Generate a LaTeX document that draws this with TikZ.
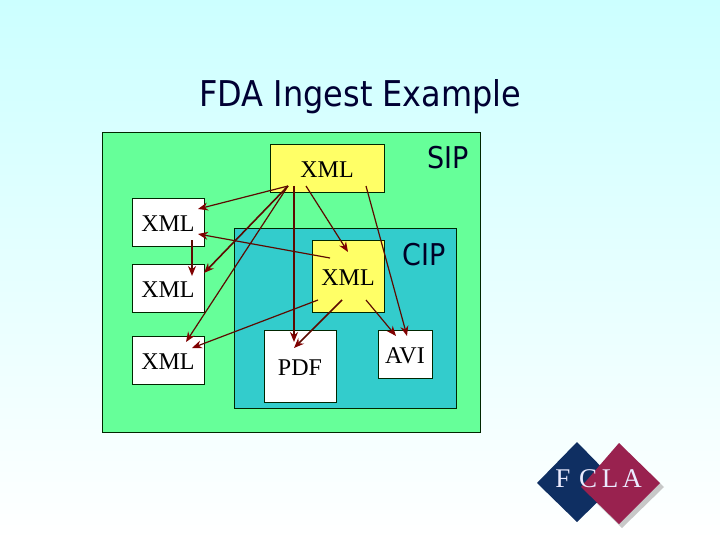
\documentclass[tikz,border=0pt]{standalone}
\usepackage{fontspec}
\usepackage{xcolor}
\usetikzlibrary{arrows.meta}
\setmainfont{Liberation Serif}
\newfontfamily\titlefont{DejaVu Sans Condensed}
\definecolor{skyColor}{HTML}{CCFFFF}
\definecolor{sipColor}{HTML}{66FF99}
\definecolor{cipColor}{HTML}{33CCCC}
\definecolor{xmlColor}{HTML}{FFFF66}
\definecolor{lineColor}{HTML}{5C0A00}
\definecolor{tipColor}{HTML}{800000}
\definecolor{navyColor}{HTML}{0F2F62}
\definecolor{wineColor}{HTML}{99224F}
\tikzset{
    filebox/.style={draw=black!85!green, line width=0.9pt, inner sep=0pt, text=black, text height=18pt, text depth=0pt, font=\fontsize{24}{24}\selectfont},
    link/.style={lineColor, line width=1.2pt, -{Stealth[length=10pt,width=8pt,color=tipColor]}},
    biglink/.style={link, line width=1.6pt},
    biglabel/.style={text=black!85!blue, font=\titlefont\fontsize{30}{30}\selectfont},
    logoletter/.style={text=white!92!blue, font=\fontsize{27}{27}\selectfont}
}

\begin{document}
\begin{tikzpicture}[x=1pt,y=-1pt]
    \useasboundingbox (0,0) rectangle (720,540);
    \shade[top color=skyColor, bottom color=white] (0,0) rectangle (720,540);
    \node[text=black!80!blue, font=\titlefont\fontsize{35.5}{35.5}\selectfont] (title) at (360.5,97) {FDA Ingest Example};
    % package boxes
    \node[filebox, fill=sipColor, minimum width=378pt, minimum height=300pt] (sip) at (291.5,282.5) {};
    \node[filebox, fill=cipColor, minimum width=222pt, minimum height=180pt] (cip) at (345,318) {};
    \node[biglabel] (siplabel) at (448,158) {SIP};
    \node[biglabel] (ciplabel) at (424,255) {CIP};
    % files
    \node[filebox, fill=xmlColor, minimum width=114pt, minimum height=48pt, text height=20pt] (sipxml) at (327,168) {XML};
    \node[filebox, fill=xmlColor, minimum width=72pt, minimum height=72pt] (cipxml) at (348,276) {XML};
    \foreach \name/\y in {xmlone/222, xmltwo/288, xmlthree/360}
        \node[filebox, fill=white, minimum width=72pt, minimum height=48pt] (\name) at (168,\y) {XML};
    \node[filebox, fill=white, minimum width=72pt, minimum height=72pt] (pdf) at (300,366) {PDF};
    \node[filebox, fill=white, minimum width=54pt, minimum height=48pt] (avi) at (405,354) {AVI};
    % arrow ends
    \coordinate (sipleft) at (288,186);
    \coordinate (sipdown) at (294,186);
    \coordinate (sipmid) at (306,186);
    \coordinate (sipright) at (366,186);
    \coordinate (cipup) at (330,258);
    \coordinate (cipleft) at (318,300);
    \coordinate (cipmid) at (342,300);
    \coordinate (cipright) at (366,300);
    \coordinate (oneright) at (198,209);
    \coordinate (onelow) at (198,234);
    \coordinate (onedown) at (192,240);
    \coordinate (twotop) at (192,276);
    \coordinate (tworight) at (204,273);
    \coordinate (threetop) at (186,342);
    \coordinate (threeright) at (192,348);
    \coordinate (pdftop) at (294,342);
    \coordinate (pdfin) at (294,348);
    \coordinate (xmltop) at (348,252);
    \coordinate (avileft) at (396,336);
    \coordinate (avitop) at (407,336);
    % out of the SIP XML
    \draw[link] (sipleft) -- (oneright);
    \draw[biglink] (sipleft) -- (tworight);
    \draw[link] (sipleft) -- (threetop);
    \draw[biglink] (sipdown) -- (pdftop);
    \draw[link] (sipmid) -- (xmltop);
    \draw[link] (sipright) -- (avitop);
    % out of the CIP XML
    \draw[link] (cipup) -- (onelow);
    \draw[link] (cipleft) -- (threeright);
    \draw[biglink] (cipmid) -- (pdfin);
    \draw[link] (cipright) -- (avileft);
    \draw[biglink] (onedown) -- (twotop);
    % logo
    \fill[black!30, opacity=0.7] (622,447) -- (664,487) -- (622,528) -- (584,491) -- cycle;
    \fill[navyColor] (577,442) -- (617,483) -- (577,522) -- (537,483) -- cycle;
    \fill[wineColor] (619,443) -- (660,483) -- (619,524) -- (581,487) -- cycle;
    \foreach \name/\letter/\x in {logof/F/563, logoc/C/588, logol/L/610, logoa/A/632}
        \node[logoletter] (\name) at (\x,479) {\letter};
\end{tikzpicture}
\end{document}
